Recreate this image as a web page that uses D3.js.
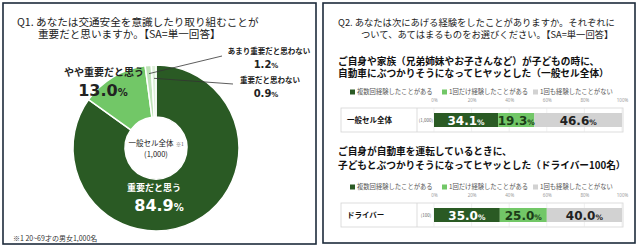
<!DOCTYPE html>
<html>
<head>
<meta charset="utf-8">
<script src="https://cdn.jsdelivr.net/npm/d3@7"></script>
<style>
  body { margin: 0; background: #fff; }
  svg { display: block; font-family: "Noto Sans CJK JP", "Noto Sans", sans-serif; }
  .num { font-family: "DejaVu Sans", "Noto Sans", sans-serif; font-weight: bold; }
</style>
</head>
<body>
<div id="wrapper"></div>
<script>
// Q1 donut data (clockwise from 12 o'clock)
const donutLabels = ["重要だと思う", "やや重要だと思う", "あまり重要だと思わない", "重要だと思わない"]
const donutValues = [84.9, 13.0, 1.2, 0.9]
const donutColors = ["#2a5a24", "#72c767", "#bfe3b8", "#def0da"]

// Q2 stacked bars
const barSeries = ["複数回経験したことがある", "1回だけ経験したことがある", "1回も経験したことがない"]
const barColors = ["#2a5a24", "#72c767", "#d2d2d2"]
const barTextColors = ["#ffffff", "#1c3d18", "#222222"]
const barRows = ["一般セル全体", "ドライバー"]
const barCounts = ["(1,000)", "(100)"]
const generalValues = [34.1, 19.3, 46.6]
const driverValues = [35.0, 25.0, 40.0]
const tickValues = [0, 20, 40, 60, 80, 100]

const width = 640
const height = 249

const svg = d3.select("#wrapper").append("svg")
  .attr("width", width)
  .attr("height", height)

// panel frames
const frames = [[3, 3, 313, 241], [323, 3, 312, 240]]
svg.selectAll("rect.frame")
  .data(frames)
  .enter()
  .append("rect")
  .attr("class", "frame")
  .attr("x", d => d[0])
  .attr("y", d => d[1])
  .attr("width", d => d[2])
  .attr("height", d => d[3])
  .attr("fill", "#fff")
  .attr("stroke", "#1d2b3b")
  .attr("stroke-width", 1.6)

// ---------- left panel ----------
const left = svg.append("g")

left.append("text").attr("x", 17).attr("y", 26)
  .style("font-size", "10.6px").attr("fill", "#222")
  .text("Q1. あなたは交通安全を意識したり取り組むことが")
left.append("text").attr("x", 38).attr("y", 38)
  .style("font-size", "10.6px").attr("fill", "#222")
  .text("重要だと思いますか。【SA=単一回答】")

const cx = 156, cy = 148
const outerR = 83, innerR = 31

const pie = d3.pie().sort(null).value(d => d)
const arcs = pie(donutValues)
const arc = d3.arc().innerRadius(innerR).outerRadius(outerR)

const donut = left.append("g").attr("transform", `translate(${cx},${cy})`)
donut.selectAll("path")
  .data(arcs)
  .enter()
  .append("path")
  .attr("d", arc)
  .attr("fill", (d, i) => donutColors[i])
  .attr("stroke", "#fff")
  .attr("stroke-width", 1.5)

// centre label
donut.append("text").attr("x", -5).attr("y", -2)
  .attr("text-anchor", "middle").style("font-size", "7.5px").attr("fill", "#222")
  .text("一般セル全体")
donut.append("text").attr("x", 24).attr("y", -2)
  .attr("text-anchor", "middle").style("font-size", "5px").attr("fill", "#555")
  .text("※1")
donut.append("text").attr("x", 0).attr("y", 9)
  .attr("text-anchor", "middle").style("font-size", "7.5px").attr("fill", "#222")
  .text("(1,000)")

// big slice label (inside)
donut.append("text").attr("x", -2).attr("y", 43)
  .attr("text-anchor", "middle").style("font-size", "9px").style("font-weight", "bold")
  .attr("fill", "#fff").text(donutLabels[0])
const big = donut.append("text").attr("class", "num").attr("x", 3).attr("y", 63)
  .attr("text-anchor", "middle").attr("fill", "#fff")
big.append("tspan").style("font-size", "16px").text(donutValues[0].toFixed(1))
big.append("tspan").style("font-size", "10px").text("%")

// light green label
left.append("text").attr("x", 104).attr("y", 76)
  .attr("text-anchor", "middle").style("font-size", "10px").style("font-weight", "bold")
  .attr("fill", "#222").text(donutLabels[1])
const mid = left.append("text").attr("class", "num").attr("x", 103).attr("y", 96)
  .attr("text-anchor", "middle").attr("fill", "#222")
mid.append("tspan").style("font-size", "16px").text(donutValues[1].toFixed(1))
mid.append("tspan").style("font-size", "10px").text("%")

// small slice labels with leader lines
const smallLabels = [
  { i: 2, lx: 269, ly: 54, vy: 68, lineEnd: [222, 56], r: 0.9 },
  { i: 3, lx: 270, ly: 83, vy: 97, lineEnd: [233, 84], r: 0.84 }
]
smallLabels.forEach(s => {
  const a = (arcs[s.i].startAngle + arcs[s.i].endAngle) / 2
  const px = cx + Math.sin(a) * outerR * s.r
  const py = cy - Math.cos(a) * outerR * s.r
  left.append("line")
    .attr("x1", px).attr("y1", py)
    .attr("x2", s.lineEnd[0]).attr("y2", s.lineEnd[1])
    .attr("stroke", "#333").attr("stroke-width", 0.8)
  left.append("text").attr("x", s.lx).attr("y", s.ly)
    .attr("text-anchor", "middle").style("font-size", "7.5px").style("font-weight", "bold")
    .attr("fill", "#222").text(donutLabels[s.i])
  const t = left.append("text").attr("class", "num").attr("x", 266).attr("y", s.vy)
    .attr("text-anchor", "middle").attr("fill", "#222")
  t.append("tspan").style("font-size", "10px").text(donutValues[s.i].toFixed(1))
  t.append("tspan").style("font-size", "7px").text("%")
})

left.append("text").attr("x", 13).attr("y", 241)
  .style("font-size", "7px").attr("fill", "#333")
  .text("※1 20~69才の男女1,000名")

// ---------- right panel ----------
const right = svg.append("g")

right.append("text").attr("x", 338).attr("y", 26)
  .style("font-size", "9.3px").attr("fill", "#222")
  .text("Q2. あなたは次にあげる経験をしたことがありますか。それぞれに")
right.append("text").attr("x", 361).attr("y", 38)
  .style("font-size", "9.3px").attr("fill", "#222")
  .text("ついて、あてはまるものをお選びください。【SA=単一回答】")

const xScale = d3.scaleLinear().domain([0, 100]).range([434, 622])

const blocks = [
  { heading: ["ご自身や家族（兄弟姉妹やお子さんなど）が子どもの時に、", "自動車にぶつかりそうになってヒヤッとした（一般セル全体）"],
    hy: [65, 77], base: 92, values: generalValues, row: 0 },
  { heading: ["ご自身が自動車を運転しているときに、", "子どもとぶつかりそうになってヒヤッとした（ドライバー100名）"],
    hy: [155, 169], base: 187, values: driverValues, row: 1 }
]

const legendX = [350, 442, 533]

blocks.forEach(b => {
  const g = right.append("g")

  b.heading.forEach((h, k) => {
    g.append("text").attr("x", 338).attr("y", b.hy[k])
      .style("font-size", "9.7px").style("font-weight", "bold").attr("fill", "#111")
      .text(h)
  })

  // legend
  const leg = g.selectAll("g.leg").data(barSeries).enter().append("g")
    .attr("transform", (d, i) => `translate(${legendX[i]},${b.base})`)
  leg.append("rect").attr("x", 0).attr("y", -2.5).attr("width", 5).attr("height", 5)
    .attr("fill", (d, i) => barColors[i])
  leg.append("text").attr("x", 7).attr("y", 2.3)
    .style("font-size", "6.3px").attr("fill", "#555").text(d => d)

  // axis ticks on top
  const axis = d3.axisTop(xScale).tickValues(tickValues).tickSize(0).tickFormat(d => d + "%")
  const ax = g.append("g").attr("transform", `translate(0,${b.base + 13})`).call(axis)
  ax.select(".domain").remove()
  ax.selectAll("text").style("font-size", "4.5px").attr("fill", "#999")
    .style("font-family", "'Noto Sans', sans-serif")

  // row box
  const boxTop = b.base + 16, boxH = 24
  g.append("rect").attr("x", 341).attr("y", boxTop)
    .attr("width", xScale(100) + 1 - 341).attr("height", boxH)
    .attr("fill", "#fff").attr("stroke", "#d4d4d4").attr("stroke-width", 0.8)
  g.append("line").attr("x1", 417).attr("x2", 417).attr("y1", boxTop).attr("y2", boxTop + boxH)
    .attr("stroke", "#d4d4d4").attr("stroke-width", 0.8)

  // grid lines
  g.selectAll("line.grid").data(tickValues).enter().append("line")
    .attr("x1", d => xScale(d)).attr("x2", d => xScale(d))
    .attr("y1", boxTop).attr("y2", boxTop + boxH)
    .attr("stroke", "#e6e6e6").attr("stroke-width", 0.6)

  g.append("text").attr("x", 347).attr("y", boxTop + 15)
    .style("font-size", "7.5px").style("font-weight", "bold").attr("fill", "#111")
    .text(barRows[b.row])
  g.append("text").attr("x", 426).attr("y", boxTop + 14)
    .attr("text-anchor", "middle").style("font-size", "4.5px").attr("fill", "#666")
    .text(barCounts[b.row])

  // stacked segments
  let acc = 0
  const segs = b.values.map(v => { const s = { x0: acc, x1: acc + v, v }; acc += v; return s })
  const barY = boxTop + 5, barH = 14
  g.selectAll("rect.seg").data(segs).enter().append("rect")
    .attr("x", d => xScale(d.x0))
    .attr("y", barY)
    .attr("width", d => xScale(d.x1) - xScale(d.x0))
    .attr("height", barH)
    .attr("fill", (d, i) => barColors[i])

  const labels = g.selectAll("text.seg").data(segs).enter().append("text")
    .attr("class", "num")
    .attr("x", d => (xScale(d.x0) + xScale(d.x1)) / 2)
    .attr("y", barY + 11.5)
    .attr("text-anchor", "middle")
    .attr("fill", (d, i) => barTextColors[i])
  labels.append("tspan").style("font-size", "12px").text(d => d.v.toFixed(1))
  labels.append("tspan").style("font-size", "7.5px").text("%")
})
</script>
</body>
</html>
